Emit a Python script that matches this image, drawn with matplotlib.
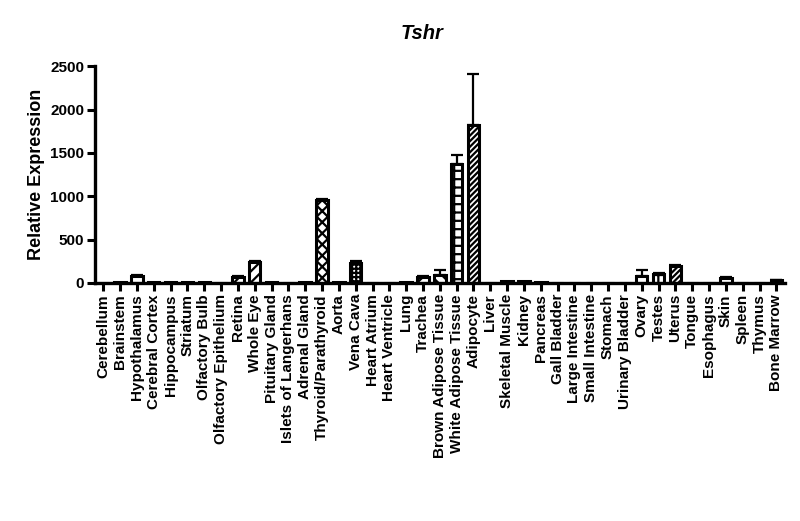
import matplotlib
matplotlib.use("Agg")
import matplotlib.pyplot as plt
import numpy as np

categories = ["Cerebellum", "Brainstem", "Hypothalamus", "Cerebral Cortex", "Hippocampus",
              "Striatum", "Olfactory Bulb", "Olfactory Epithelium", "Retina", "Whole Eye",
              "Pituitary Gland", "Islets of Langerhans", "Adrenal Gland", "Thyroid/Parathyroid",
              "Aorta", "Vena Cava", "Heart Atrium", "Heart Ventricle", "Lung", "Trachea",
              "Brown Adipose Tissue", "White Adipose Tissue", "Adipocyte", "Liver",
              "Skeletal Muscle", "Kidney", "Pancreas", "Gall Bladder", "Large Intestine",
              "Small Intestine", "Stomach", "Urinary Bladder", "Ovary", "Testes", "Uterus",
              "Tongue", "Esophagus", "Skin", "Spleen", "Thymus", "Bone Marrow"]
values = [2, 5, 75, 8, 8, 8, 8, 2, 70, 245, 10, 2, 15, 955, 15, 235, 2, 2, 5, 70,
          95, 1375, 1825, 3, 25, 20, 5, 3, 2, 2, 2, 3, 75, 105, 200, 3, 2, 60, 2, 2, 30]
errors = [0, 0, 20, 0, 0, 0, 0, 0, 10, 10, 0, 0, 0, 15, 0, 20, 0, 0, 0, 5,
          50, 95, 590, 0, 0, 0, 0, 0, 0, 0, 0, 0, 70, 10, 5, 0, 0, 10, 0, 0, 5]
hatches = ["", "", "-", "", "", "", "", "", "xx", "///", "", "", "", "xxx", "", "++++", "", "", "", "//",
           "\\\\\\", "++", "//////", "", "", "", "", "", "", "", "", "", "-", "+", "//////",
           "", "", "", "", "", ""]

plt.rcParams['font.family'] = ['Liberation Sans', 'DejaVu Sans']
plt.rcParams['font.weight'] = 'bold'
plt.rcParams['hatch.linewidth'] = 1.6

fig = plt.figure(figsize=(8, 5.21), dpi=100)
ax = fig.add_axes([0.119, 0.457, 0.862, 0.416])

x = np.arange(len(categories))
for i in range(len(categories)):
    ax.bar(x[i], values[i], width=0.68, color="white", edgecolor="black",
           linewidth=2.2, hatch=hatches[i], zorder=2)
    if errors[i] > 0:
        ax.errorbar(x[i], values[i], yerr=[[0], [errors[i]]], fmt="none",
                    ecolor="black", elinewidth=1.6, capsize=4, capthick=1.6, zorder=1)

ax.set_xlim(-0.48, len(categories) - 0.5)
ax.set_ylim(0, 2500)
ax.set_yticks([0, 500, 1000, 1500, 2000, 2500])
ax.set_xticks(x)
ax.set_xticklabels(categories, rotation=90, fontsize=11, fontweight="bold")
for lab in ax.get_yticklabels():
    lab.set_fontsize(11)
    lab.set_fontweight("bold")
ax.tick_params(axis="both", direction="out", length=6, width=2.2, pad=2)
for s in ["top", "right"]:
    ax.spines[s].set_visible(False)
for s in ["left", "bottom"]:
    ax.spines[s].set_linewidth(2.4)
ax.set_ylabel("Relative Expression", fontsize=13, fontweight="bold", labelpad=4)
fig.text(0.528, 0.936, "Tshr", ha="center", va="center", fontsize=14.5,
         fontweight="bold", fontstyle="italic")

fig.savefig("out.png", dpi=100)
